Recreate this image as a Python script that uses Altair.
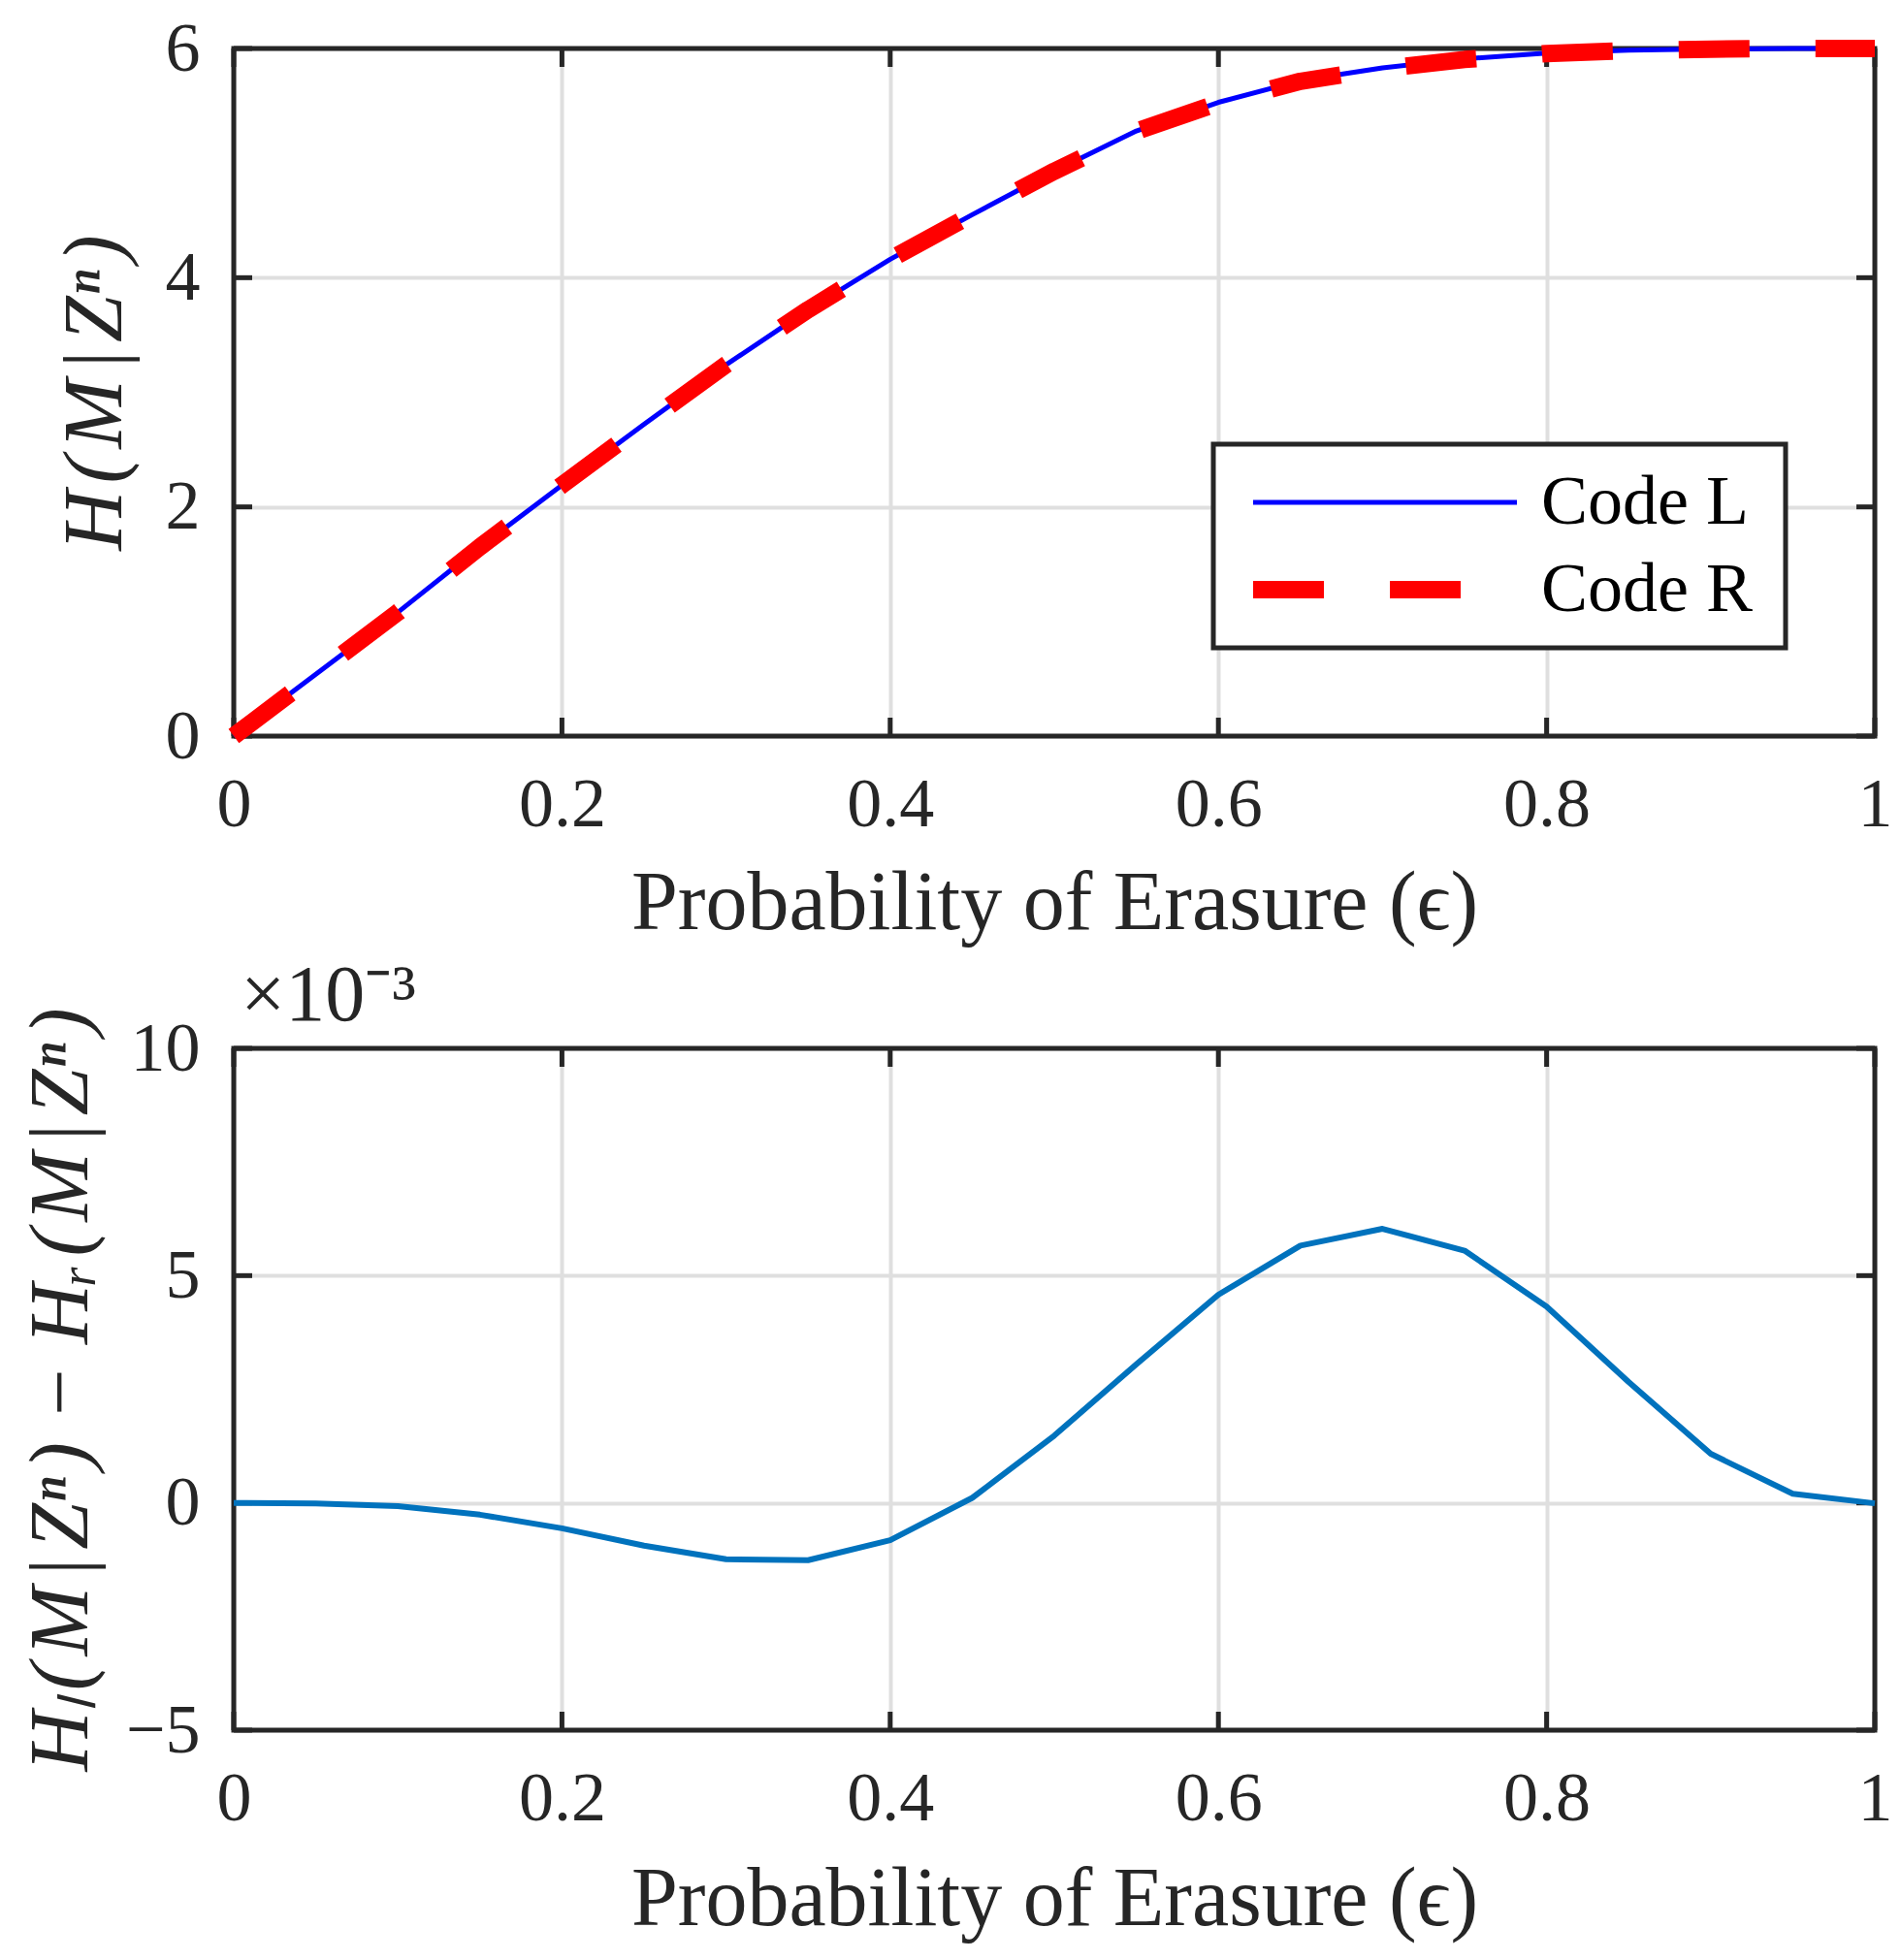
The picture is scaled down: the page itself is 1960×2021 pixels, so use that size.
import altair as alt
import pandas as pd

# ---------------- data ----------------
eps = [0.0, 0.05, 0.1, 0.15, 0.2, 0.25, 0.3, 0.35, 0.4, 0.45, 0.5,
       0.55, 0.6, 0.65, 0.7, 0.75, 0.8, 0.85, 0.9, 0.95, 1.0]
code_l = [0.0, 0.54, 1.08, 1.65, 2.19, 2.72, 3.24, 3.72, 4.16, 4.55, 4.93,
          5.28, 5.53, 5.72, 5.83, 5.91, 5.96, 5.985, 5.995, 6.0, 6.0]
code_r = [0.0, 0.54, 1.08, 1.65, 2.191, 2.721, 3.241, 3.721, 4.161, 4.55, 4.929,
          5.277, 5.525, 5.714, 5.824, 5.904, 5.956, 5.982, 5.994, 6.0, 6.0]
diff_e3 = [0.0, -0.01, -0.07, -0.26, -0.56, -0.94, -1.24, -1.26, -0.82, 0.11, 1.48,
           3.05, 4.58, 5.66, 6.03, 5.55, 4.32, 2.66, 1.08, 0.2, -0.01]

x_ticks = [0, 0.2, 0.4, 0.6, 0.8, 1]
y_ticks_top = [0, 2, 4, 6]
y_ticks_bot = [-5, 0, 5, 10]
legend_labels = ["Code L", "Code R"]
series_colors = ["#0000FF", "#FF0000"]

HS = "\u200a"  # hair space, mimics math spacing
x_title = "Probability of Erasure (ϵ)"
y_title_top = HS.join(["H", "(", "M", "|", "Zⁿ", ")"])
y_title_bot = HS.join(["Hₗ", "(", "M", "|", "Zⁿ", ")"]) + " − " + HS.join(["Hᵣ", "(", "M", "|", "Zⁿ", ")"])
exp_label = "×10⁻³"

# ---------------- style ----------------
FONT = "Liberation Serif"
INK = "#262626"
W = 1692
H_TOP = 709
H_BOT = 703
TICK = 19
LABEL_FS = 72
TITLE_FS = 86

df_top = pd.DataFrame({"eps": eps, "code_l": code_l, "code_r": code_r})
df_bot = pd.DataFrame({"eps": eps, "diff": diff_e3})
df_xt = pd.DataFrame({"t": x_ticks})
one = pd.DataFrame({"a": [0]})

common_axis = dict(grid=True, ticks=False, tickSize=0, domain=False, labelPadding=35,
                   labelFlush=False,
                   labelFont=FONT, labelFontSize=LABEL_FS, labelColor=INK,
                   titleFont=FONT, titleFontSize=TITLE_FS, titleColor=INK,
                   titleFontWeight="normal", titleBaseline="middle",
                   gridColor="#DFDFDF", gridWidth=4, gridOpacity=1)


def x_axis(title_y):
    return alt.Axis(values=x_ticks, format="~g", title=x_title,
                    titleX=W / 2, titleY=title_y, **common_axis)


def y_axis(vals, title, title_x, h):
    return alt.Axis(values=vals, format="d", title=title,
                    titleX=title_x, titleY=h / 2, titleFontStyle="italic",
                    **common_axis)


def panel(df, lines, ydomain, yvals, ytitle, title_x, title_y, h):
    xs = alt.Scale(domain=[0, 1], nice=False, zero=False)
    ys = alt.Scale(domain=ydomain, nice=False, zero=False)
    ax_x = x_axis(title_y)
    ax_y = y_axis(yvals, ytitle, title_x, h)

    def X(f):
        return alt.X(f, type="quantitative", scale=xs, axis=ax_x)

    def Y(f):
        return alt.Y(f, type="quantitative", scale=ys, axis=ax_y)

    # box frame (drawn above the grid, below the data)
    layers = [alt.Chart(one).mark_rect(fill=None, fillOpacity=0, stroke=INK, strokeWidth=5).encode(
        x=alt.value(0), x2=alt.value(W), y=alt.value(0), y2=alt.value(h))]

    df_yt = pd.DataFrame({"t": yvals})
    tick_kw = dict(color=INK, strokeWidth=5)
    layers += [
        alt.Chart(df_xt).mark_rule(**tick_kw).encode(x=X("t"), y=alt.value(0), y2=alt.value(TICK)),
        alt.Chart(df_xt).mark_rule(**tick_kw).encode(x=X("t"), y=alt.value(h), y2=alt.value(h - TICK)),
        alt.Chart(df_yt).mark_rule(**tick_kw).encode(y=Y("t"), x=alt.value(0), x2=alt.value(TICK)),
        alt.Chart(df_yt).mark_rule(**tick_kw).encode(y=Y("t"), x=alt.value(W), x2=alt.value(W - TICK)),
    ]

    for field, color, width, dash in lines:
        kw = dict(color=color, strokeWidth=width, clip=False, strokeCap="butt",
                  strokeJoin="round")
        if dash:
            kw["strokeDash"] = dash
        layers.append(alt.Chart(df).mark_line(**kw).encode(x=X("eps"), y=Y(field)))
    return layers


top_layers = panel(
    df_top,
    [("code_l", series_colors[0], 5, None), ("code_r", series_colors[1], 18, [73, 68])],
    [0, 6], y_ticks_top, y_title_top, -143, 172, H_TOP)

# legend (decoration, pixel placed inside the plot area)
LX0, LX1, LY0, LY1 = 1010, 1600, 408, 618
row_y = [468, 558]
leg_box = alt.Chart(one).mark_rect(
    fill="white", stroke=INK, strokeWidth=5).encode(
    x=alt.value(LX0), x2=alt.value(LX1), y=alt.value(LY0), y2=alt.value(LY1))
leg_l = alt.Chart(one).mark_rule(
    color=series_colors[0], strokeWidth=5).encode(
    x=alt.value(1051), x2=alt.value(1323), y=alt.value(row_y[0]))
leg_r = alt.Chart(one).mark_rule(
    color=series_colors[1], strokeWidth=18, strokeDash=[73, 68], strokeCap="butt").encode(
    x=alt.value(1051), x2=alt.value(1323), y=alt.value(row_y[1]))
leg_text = [
    alt.Chart(pd.DataFrame({"label": [lab]})).mark_text(
        font=FONT, fontSize=LABEL_FS, color="black", align="left", baseline="middle").encode(
        x=alt.value(1348), y=alt.value(ry), text="label:N")
    for lab, ry in zip(legend_labels, row_y)
]

top = alt.layer(*top_layers, leg_box, leg_l, leg_r, *leg_text).properties(
    width=W, height=H_TOP)

bot_layers = panel(
    df_bot,
    [("diff", "#0072BD", 6, None)],
    [-5, 10], y_ticks_bot, y_title_bot, -178, 174, H_BOT)

bot = alt.layer(*bot_layers).properties(
    width=W, height=H_BOT,
    title=alt.TitleParams(exp_label, anchor="start", frame="group", fontSize=82,
                          font=FONT, fontWeight="normal", color=INK, dx=7, offset=-30))

chart = alt.concat(top, bot, columns=1, spacing=11,
                   align={"row": "each", "column": "all"}).properties(
    padding={"left": 11, "top": 6, "right": 0, "bottom": 6},
    background="white"
).configure_view(
    stroke=None
)

chart.save("out.html", embed_options={"renderer": "svg", "actions": False})
